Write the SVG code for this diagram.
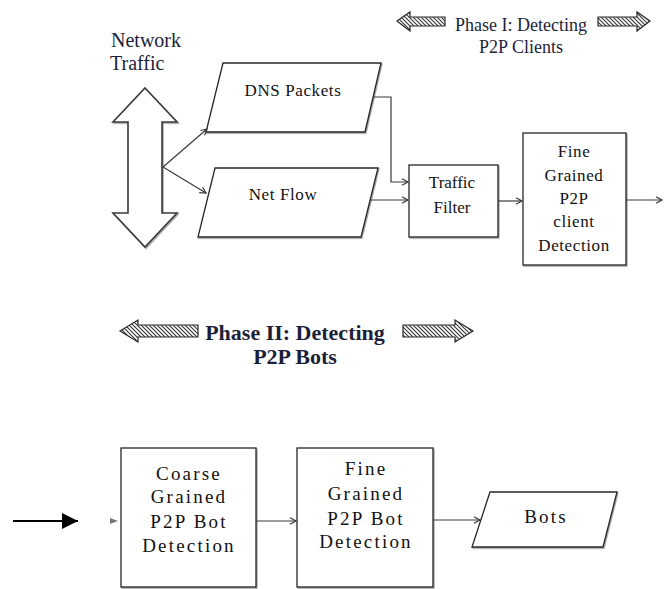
<svg xmlns="http://www.w3.org/2000/svg" width="664" height="589" viewBox="0 0 664 589">
<defs>
<style>
.bg{fill:#ffffff}
.shape{fill:#ffffff;stroke:#262626;stroke-width:1.3;filter:url(#sh)}
.conn{fill:none;stroke:#3a3a3a;stroke-width:1.2}
.lbl{font-family:"Liberation Serif","Times New Roman",serif;font-size:17px;fill:#111;text-anchor:middle;letter-spacing:0.6px}
.lbl2{font-family:"Liberation Serif","Times New Roman",serif;font-size:19px;fill:#111;text-anchor:middle;letter-spacing:2.2px}
.title{font-family:"Liberation Serif","Times New Roman",serif;fill:#1c1f3a;text-anchor:middle}
.hatch{fill:url(#hp);stroke:#2a2a2a;stroke-width:1.2}
.dbl{fill:#ffffff;stroke:#3a3a3a;stroke-width:1.6;filter:url(#sh)}
</style>
<filter id="sh" x="-10%" y="-10%" width="130%" height="130%">
<feDropShadow dx="1" dy="1.2" stdDeviation="0.7" flood-color="#000" flood-opacity="0.35"/>
</filter>
<pattern id="hp" patternUnits="userSpaceOnUse" width="4" height="4">
<rect width="4" height="4" fill="#fff"/>
<path d="M0,0 L4,4 M-1,3 L1,5 M3,-1 L5,1" stroke="#333" stroke-width="1.1"/>
</pattern>
<marker id="ah" markerUnits="userSpaceOnUse" markerWidth="10" markerHeight="10" refX="7" refY="4" orient="auto">
<path d="M1,0.8 L7,4 L1,7.2" fill="none" stroke="#3a3a3a" stroke-width="1.2"/>
</marker>
<marker id="bh" markerUnits="userSpaceOnUse" markerWidth="18" markerHeight="18" refX="16" refY="8" orient="auto">
<path d="M0,0 L16,8 L0,16 Z" fill="#000"/>
</marker>
</defs>
<rect class="bg" x="0" y="0" width="664" height="589"/>

<g id="phase1-title">
<path class="hatch" d="M397,21 L410,12 L410,17 L445,17 L445,26 L410,26 L410,31 Z"/>
<path class="hatch" d="M650,21 L637,12 L637,17 L598,17 L598,26 L637,26 L637,31 Z"/>
<text class="title" x="521" y="31" font-size="18">Phase I: Detecting</text>
<text class="title" x="521" y="53" font-size="18">P2P Clients</text>
</g>

<g id="network-traffic">
<text class="title" x="146" y="47" font-size="20" style="text-anchor:middle">Network</text>
<text x="110" y="70" font-family="Liberation Serif, Times New Roman, serif" font-size="20" fill="#1c1f3a">Traffic</text>
<path class="dbl" d="M145,88 L177,122 L162,122 L162,213 L177,213 L145,247 L113,213 L128,213 L128,122 L113,122 Z"/>
</g>

<g id="dns-packets">
<polygon class="shape" points="223,63 381,63 365,132 206,132"/>
<text class="lbl" x="293" y="96">DNS Packets</text>
</g>

<g id="net-flow">
<polygon class="shape" points="215,168 378,168 361,237 198,237"/>
<text class="lbl" x="283" y="200">Net Flow</text>
</g>

<g id="traffic-filter">
<rect class="shape" x="409" y="165" width="89" height="72"/>
<text class="lbl" x="452" y="188" style="letter-spacing:0">Traffic</text>
<text class="lbl" x="452" y="213" style="letter-spacing:0">Filter</text>
</g>

<g id="fine-grained-client">
<rect class="shape" x="523" y="133" width="103" height="132"/>
<text class="lbl" x="574" y="157">Fine</text>
<text class="lbl" x="574" y="181">Grained</text>
<text class="lbl" x="574" y="204">P2P</text>
<text class="lbl" x="574" y="227">client</text>
<text class="lbl" x="574" y="251">Detection</text>
</g>

<g id="phase2-title">
<path class="hatch" d="M120,331 L138,320 L138,325 L198,325 L198,337 L138,337 L138,342 Z"/>
<path class="hatch" d="M473,331 L455,320 L455,325 L403,325 L403,337 L455,337 L455,342 Z"/>
<text class="title" x="295" y="340" font-size="22" font-weight="bold">Phase II: Detecting</text>
<text class="title" x="295" y="364" font-size="22" font-weight="bold">P2P Bots</text>
</g>

<g id="coarse-grained-bot">
<rect class="shape" x="121" y="448" width="135" height="139"/>
<text class="lbl2" x="189" y="480">Coarse</text>
<text class="lbl2" x="189" y="503">Grained</text>
<text class="lbl2" x="189" y="528">P2P Bot</text>
<text class="lbl2" x="189" y="552">Detection</text>
</g>

<g id="fine-grained-bot">
<rect class="shape" x="297" y="448" width="136" height="139"/>
<text class="lbl2" x="366" y="475">Fine</text>
<text class="lbl2" x="366" y="500">Grained</text>
<text class="lbl2" x="366" y="525">P2P Bot</text>
<text class="lbl2" x="366" y="548">Detection</text>
</g>

<g id="bots">
<polygon class="shape" points="490,492 617,492 603,547 472,547"/>
<text class="lbl2" x="546" y="523">Bots</text>
</g>

<g id="connectors">
<line class="conn" x1="163" y1="167" x2="207" y2="129" marker-end="url(#ah)"/>
<line class="conn" x1="163" y1="167" x2="206" y2="193" marker-end="url(#ah)"/>
<polyline class="conn" points="373,97 391,97 391,182 408,182" marker-end="url(#ah)"/>
<line class="conn" x1="370" y1="200" x2="408" y2="200" marker-end="url(#ah)"/>
<line class="conn" x1="498" y1="201" x2="522" y2="201" marker-end="url(#ah)"/>
<line class="conn" x1="626" y1="200" x2="662" y2="200" marker-end="url(#ah)"/>
<line x1="13" y1="521" x2="78" y2="521" stroke="#000" stroke-width="2" marker-end="url(#bh)"/>
<polygon points="110,518 118,521 110,524" fill="#777"/>
<line class="conn" x1="256" y1="521" x2="296" y2="521" marker-end="url(#ah)"/>
<line class="conn" x1="433" y1="520" x2="480" y2="520" marker-end="url(#ah)"/>
</g>
</svg>
